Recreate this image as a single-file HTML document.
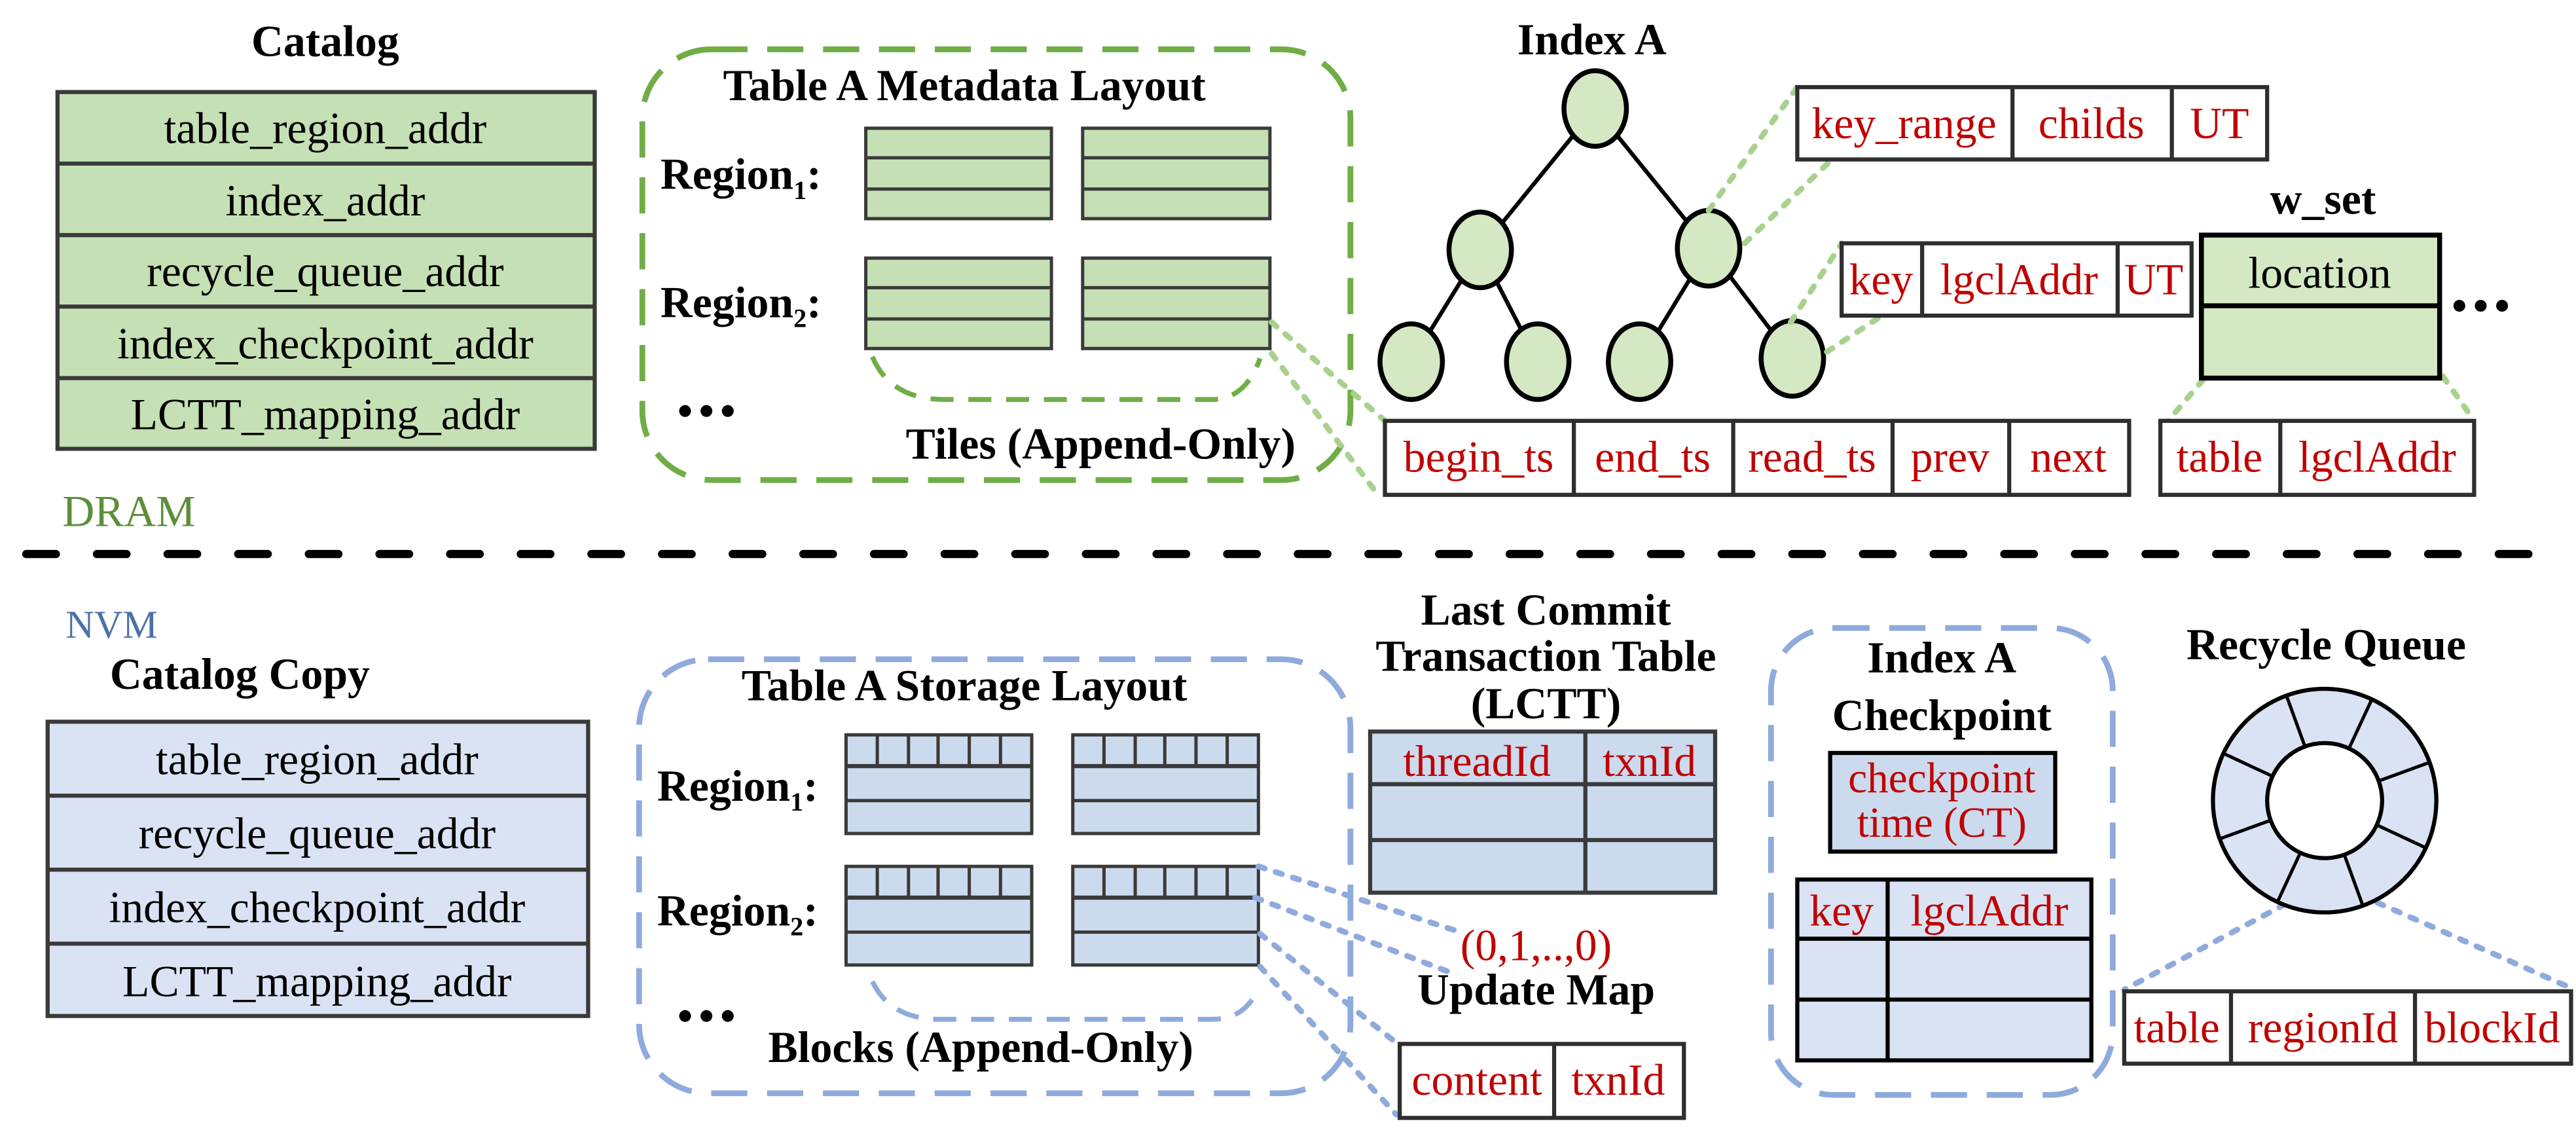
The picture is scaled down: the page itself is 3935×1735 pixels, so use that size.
<!DOCTYPE html>
<html><head><meta charset="utf-8"><style>
html,body{margin:0;padding:0;background:#fff;}
svg{display:block;}
text{font-family:"Liberation Serif",serif;}
.b{font-weight:bold;fill:#000;}
.t{fill:#000;}
.r{fill:#c00000;}
</style></head><body>
<svg width="3935" height="1735" viewBox="0 0 1568 691" preserveAspectRatio="none" xmlns="http://www.w3.org/2000/svg">
<rect width="1568" height="691" fill="#fff"/>
<!-- ===== TOP ===== -->
<text x="198" y="34" class="b" font-size="27" text-anchor="middle">Catalog</text>
<g stroke="#3a3a3a" stroke-width="2.5" fill="#c5e0b4">
<rect x="35" y="56" width="327" height="217"/>
<line x1="35" y1="99.5" x2="362" y2="99.5"/><line x1="35" y1="143" x2="362" y2="143"/><line x1="35" y1="186.5" x2="362" y2="186.5"/><line x1="35" y1="230" x2="362" y2="230"/>
</g>
<g class="t" font-size="27" text-anchor="middle">
<text x="198" y="87">table_region_addr</text>
<text x="198" y="131">index_addr</text>
<text x="198" y="174">recycle_queue_addr</text>
<text x="198" y="218">index_checkpoint_addr</text>
<text x="198" y="261">LCTT_mapping_addr</text>
</g>
<text x="38" y="320" fill="#5b8f3a" font-size="27">DRAM</text>
<line x1="16" y1="337" x2="1555" y2="337" stroke="#000" stroke-width="5" stroke-dasharray="18 25" stroke-linecap="round"/>

<rect x="391" y="30" width="431" height="262" rx="42" fill="none" stroke="#70ad47" stroke-width="3.5" stroke-dasharray="22 12"/>
<text x="587" y="61" class="b" font-size="27" text-anchor="middle">Table A Metadata  Layout</text>
<text x="402" y="115" class="b" font-size="27">Region<tspan font-size="16" dy="6">1</tspan><tspan dy="-6">:</tspan></text>
<text x="402" y="193" class="b" font-size="27">Region<tspan font-size="16" dy="6">2</tspan><tspan dy="-6">:</tspan></text>
<g stroke="#3a3a3a" stroke-width="2" fill="#c5e0b4">
<rect x="527" y="78" width="113" height="55"/><line x1="527" y1="96" x2="640" y2="96"/><line x1="527" y1="115" x2="640" y2="115"/>
<rect x="659" y="78" width="114" height="55"/><line x1="659" y1="96" x2="773" y2="96"/><line x1="659" y1="115" x2="773" y2="115"/>
<rect x="527" y="157" width="113" height="55"/><line x1="527" y1="175" x2="640" y2="175"/><line x1="527" y1="194" x2="640" y2="194"/>
<rect x="659" y="157" width="114" height="55"/><line x1="659" y1="175" x2="773" y2="175"/><line x1="659" y1="194" x2="773" y2="194"/>
</g>
<path d="M531,217 Q542,243 575,243 H738 Q758,243 767,218" fill="none" stroke="#70ad47" stroke-width="3" stroke-dasharray="14 9"/>
<g fill="#000"><circle cx="417" cy="250" r="3.6"/><circle cx="430" cy="250" r="3.6"/><circle cx="443" cy="250" r="3.6"/></g>
<text x="670" y="279" class="b" font-size="27" text-anchor="middle">Tiles  (Append-Only)</text>

<!-- tree -->
<text x="969" y="33" class="b" font-size="27" text-anchor="middle">Index A</text>
<g stroke="#000" stroke-width="2.5">
<line x1="971" y1="66" x2="901" y2="152"/><line x1="971" y1="66" x2="1040" y2="151"/>
<line x1="901" y1="152" x2="859" y2="220"/><line x1="901" y1="152" x2="936" y2="220"/>
<line x1="1040" y1="151" x2="998" y2="220"/><line x1="1040" y1="151" x2="1091" y2="218"/>
</g>
<g stroke="#000" stroke-width="3" fill="#d5e8c4">
<ellipse cx="971" cy="66" rx="19" ry="23"/>
<ellipse cx="901" cy="152" rx="19" ry="23"/>
<ellipse cx="1040" cy="151" rx="19" ry="23"/>
<ellipse cx="859" cy="220" rx="19" ry="23"/>
<ellipse cx="936" cy="220" rx="19" ry="23"/>
<ellipse cx="998" cy="220" rx="19" ry="23"/>
<ellipse cx="1091" cy="218" rx="19" ry="23"/>
</g>
<!-- green dotted -->
<g stroke="#a9d18e" stroke-width="3.5" stroke-dasharray="4 7" stroke-linecap="round" fill="none">
<line x1="1040" y1="128" x2="1094" y2="53"/><line x1="1062" y1="148" x2="1115" y2="97"/>
<line x1="1090" y1="196" x2="1121" y2="148"/><line x1="1112" y1="214" x2="1147" y2="191"/>
<line x1="1341" y1="231" x2="1318" y2="258"/><line x1="1487" y1="229" x2="1504" y2="253"/>
<line x1="774" y1="196" x2="843" y2="256"/><line x1="774" y1="215" x2="838" y2="300"/>
</g>
<g stroke="#2e2e2e" stroke-width="2.5" fill="#fff">
<rect x="1094" y="53" width="286" height="44"/><line x1="1225" y1="53" x2="1225" y2="97"/><line x1="1322" y1="53" x2="1322" y2="97"/>
<rect x="1121" y="148" width="213" height="44"/><line x1="1170" y1="148" x2="1170" y2="192"/><line x1="1289" y1="148" x2="1289" y2="192"/>
<rect x="843" y="256" width="453" height="45"/><line x1="958" y1="256" x2="958" y2="301"/><line x1="1055" y1="256" x2="1055" y2="301"/><line x1="1152" y1="256" x2="1152" y2="301"/><line x1="1223" y1="256" x2="1223" y2="301"/>
<rect x="1315" y="256" width="191" height="45"/><line x1="1388" y1="256" x2="1388" y2="301"/>
</g>
<g class="r" font-size="27" text-anchor="middle">
<text x="1159" y="84">key_range</text><text x="1273" y="84">childs</text><text x="1351" y="84">UT</text>
<text x="1145" y="179">key</text><text x="1229" y="179">lgclAddr</text><text x="1311" y="179">UT</text>
<text x="900" y="287">begin_ts</text><text x="1006" y="287">end_ts</text><text x="1103" y="287">read_ts</text><text x="1187" y="287">prev</text><text x="1259" y="287">next</text>
<text x="1351" y="287">table</text><text x="1447" y="287">lgclAddr</text>
</g>
<text x="1414" y="130" class="b" font-size="27" text-anchor="middle">w_set</text>
<g stroke="#000" stroke-width="3" fill="#d5e8c4">
<rect x="1340" y="143" width="145" height="87"/><line x1="1340" y1="186" x2="1485" y2="186"/>
</g>
<text x="1412" y="175" class="t" font-size="27" text-anchor="middle">location</text>
<g fill="#000"><circle cx="1497" cy="186" r="3.6"/><circle cx="1510" cy="186" r="3.6"/><circle cx="1523" cy="186" r="3.6"/></g>

<!-- ===== BOTTOM ===== -->
<text x="40" y="388" fill="#4a72a8" font-size="24">NVM</text>
<text x="146" y="419" class="b" font-size="27" text-anchor="middle">Catalog Copy</text>
<g stroke="#3a3a3a" stroke-width="2.5" fill="#dae3f3">
<rect x="29" y="439" width="329" height="179"/>
<line x1="29" y1="484" x2="358" y2="484"/><line x1="29" y1="529" x2="358" y2="529"/><line x1="29" y1="574" x2="358" y2="574"/>
</g>
<g class="t" font-size="27" text-anchor="middle">
<text x="193" y="471">table_region_addr</text>
<text x="193" y="516">recycle_queue_addr</text>
<text x="193" y="561">index_checkpoint_addr</text>
<text x="193" y="606">LCTT_mapping_addr</text>
</g>

<rect x="389" y="401" width="433" height="264" rx="42" fill="none" stroke="#8faadc" stroke-width="3.5" stroke-dasharray="22 12"/>
<text x="587" y="426" class="b" font-size="27" text-anchor="middle">Table A Storage Layout</text>
<text x="400" y="487" class="b" font-size="27">Region<tspan font-size="16" dy="6">1</tspan><tspan dy="-6">:</tspan></text>
<text x="400" y="563" class="b" font-size="27">Region<tspan font-size="16" dy="6">2</tspan><tspan dy="-6">:</tspan></text>
<g stroke="#3a3a3a" stroke-width="2" fill="#ccdaee">
<g id="blk">
<rect x="515" y="447" width="113" height="60"/><line x1="515" y1="466" x2="628" y2="466" stroke-width="2.5"/><line x1="515" y1="487" x2="628" y2="487"/>
<line x1="534" y1="447" x2="534" y2="466"/><line x1="553" y1="447" x2="553" y2="466"/><line x1="571" y1="447" x2="571" y2="466"/><line x1="590" y1="447" x2="590" y2="466"/><line x1="609" y1="447" x2="609" y2="466"/>
</g>
<use href="#blk" x="138" y="0"/>
<use href="#blk" x="0" y="80"/>
<use href="#blk" x="138" y="80"/>
</g>
<path d="M531,597 Q542,620 572,620 H738 Q758,620 766,601" fill="none" stroke="#8faadc" stroke-width="3" stroke-dasharray="14 9"/>
<g fill="#000"><circle cx="417" cy="618" r="3.6"/><circle cx="430" cy="618" r="3.6"/><circle cx="443" cy="618" r="3.6"/></g>
<text x="597" y="646" class="b" font-size="27" text-anchor="middle">Blocks  (Append-Only)</text>

<g stroke="#8faadc" stroke-width="3.5" stroke-dasharray="4 7" stroke-linecap="round" fill="none">
<line x1="766" y1="527" x2="889" y2="567"/><line x1="764" y1="546" x2="884" y2="592"/>
<line x1="767" y1="568" x2="852" y2="636"/><line x1="767" y1="588" x2="850" y2="678"/>
<line x1="1391" y1="550" x2="1293" y2="602"/><line x1="1447" y1="549" x2="1565" y2="601"/>
</g>

<g class="b" font-size="27" text-anchor="middle">
<text x="941" y="380">Last Commit</text>
<text x="941" y="408">Transaction Table</text>
<text x="941" y="437">(LCTT)</text>
</g>
<g stroke="#3a3a3a" stroke-width="2.5" fill="#ccdaee">
<rect x="834" y="445" width="210" height="98"/><line x1="965" y1="445" x2="965" y2="543"/><line x1="834" y1="477" x2="1044" y2="477"/><line x1="834" y1="511" x2="1044" y2="511"/>
</g>
<g class="r" font-size="27" text-anchor="middle">
<text x="899" y="472">threadId</text><text x="1004" y="472">txnId</text>
<text x="935" y="584">(0,1,..,0)</text>
</g>
<text x="935" y="611" class="b" font-size="27" text-anchor="middle">Update Map</text>
<g stroke="#2e2e2e" stroke-width="2.5" fill="#fff">
<rect x="852" y="635" width="173" height="45"/><line x1="946" y1="635" x2="946" y2="680"/>
</g>
<g class="r" font-size="27" text-anchor="middle"><text x="899" y="666">content</text><text x="985" y="666">txnId</text></g>

<rect x="1078" y="382" width="208" height="284" rx="38" fill="none" stroke="#8faadc" stroke-width="3.5" stroke-dasharray="22 12"/>
<text x="1182" y="409" class="b" font-size="27" text-anchor="middle">Index A</text>
<text x="1182" y="444" class="b" font-size="27" text-anchor="middle">Checkpoint</text>
<rect x="1114" y="458" width="137" height="60" fill="#ccdaee" stroke="#000" stroke-width="2.5"/>
<text x="1182" y="482" class="r" font-size="26" text-anchor="middle">checkpoint</text>
<text x="1182" y="509" class="r" font-size="26" text-anchor="middle">time (CT)</text>
<g stroke="#000" stroke-width="2.5" fill="#dae3f3">
<rect x="1094" y="535" width="179" height="110"/><line x1="1149" y1="535" x2="1149" y2="645"/><line x1="1094" y1="571" x2="1273" y2="571"/><line x1="1094" y1="608" x2="1273" y2="608"/>
</g>
<g class="r" font-size="27" text-anchor="middle"><text x="1121" y="563">key</text><text x="1211" y="563">lgclAddr</text></g>

<text x="1416" y="401" class="b" font-size="27" text-anchor="middle">Recycle Queue</text>
<circle cx="1415" cy="487" r="68" fill="#dae3f3" stroke="#000" stroke-width="2.5"/>
<circle cx="1415" cy="487" r="35" fill="#fff" stroke="#000" stroke-width="2.5"/>
<g stroke="#000" stroke-width="2" transform="translate(1415 487)">
<line x1="0" y1="-35" x2="0" y2="-68" transform="rotate(25)"/>
<line x1="0" y1="-35" x2="0" y2="-68" transform="rotate(70)"/>
<line x1="0" y1="-35" x2="0" y2="-68" transform="rotate(115)"/>
<line x1="0" y1="-35" x2="0" y2="-68" transform="rotate(160)"/>
<line x1="0" y1="-35" x2="0" y2="-68" transform="rotate(205)"/>
<line x1="0" y1="-35" x2="0" y2="-68" transform="rotate(250)"/>
<line x1="0" y1="-35" x2="0" y2="-68" transform="rotate(295)"/>
<line x1="0" y1="-35" x2="0" y2="-68" transform="rotate(340)"/>
</g>
<g stroke="#2e2e2e" stroke-width="2.5" fill="#fff">
<rect x="1293" y="603" width="272" height="44"/><line x1="1358" y1="603" x2="1358" y2="647"/><line x1="1470" y1="603" x2="1470" y2="647"/>
</g>
<g class="r" font-size="27" text-anchor="middle"><text x="1325" y="634">table</text><text x="1414" y="634">regionId</text><text x="1517" y="634">blockId</text></g>
</svg>
</body></html>
